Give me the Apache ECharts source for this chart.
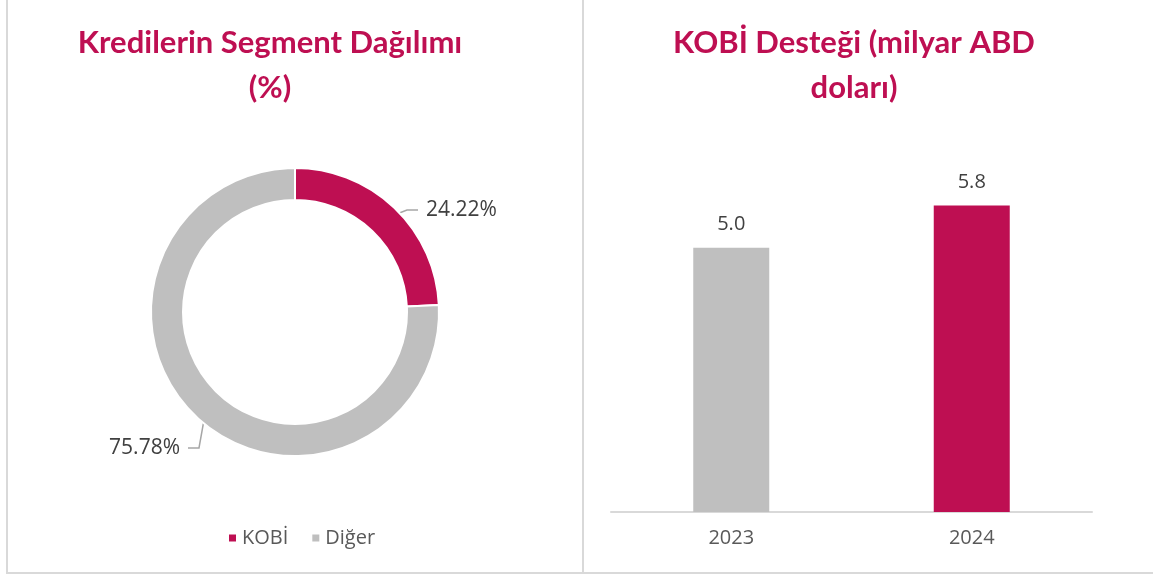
<!DOCTYPE html>
<html>
<head>
<meta charset="utf-8">
<script src="https://cdn.jsdelivr.net/npm/echarts@6/dist/echarts.min.js"></script>
<style>
  html, body { margin: 0; padding: 0; background: #fff; }
  #chart { width: 1153px; height: 575px; }
</style>
</head>
<body>
<div id="chart"></div>
<script>
// pie: loan segment split (%)
const segmentNames = ['KOBİ', 'Diğer'];
const segmentShares = [24.22, 75.78];

// bars: SME support (billion USD)
const years = ['2023', '2024'];
const smeSupport = [5.0, 5.8];

const crimson = '#BE0F52';
const grey = '#BFBFBF';
const segmentColors = [crimson, grey];
const barColors = [grey, crimson];

const titleStyle = {
    fontFamily: 'Lato',
    fontWeight: 'bold',
    fontSize: 31,
    lineHeight: 45,
    color: crimson
};

// where the pie labels sit (Excel style callouts)
const pieLabelPos = [
    { x: 426, y: 210, align: 'left' },
    { x: 180, y: 448, align: 'right' }
];

const chart = echarts.init(document.getElementById('chart'));

function pieLabelLayout(p) {
    const pos = pieLabelPos[p.dataIndex];
    const pts = p.labelLinePoints;
    // start the leader half way into the ring, along the radial direction
    const vx = pts[1][0] - pts[0][0];
    const vy = pts[1][1] - pts[0][1];
    const len = Math.sqrt(vx * vx + vy * vy) || 1;
    const start = [pts[0][0] - 16 * vx / len, pts[0][1] - 16 * vy / len];
    const side = pos.align === 'left' ? -1 : 1;
    const end = [pos.x + side * 8, pos.y];
    const elbow = [end[0] + side * 11, pos.y];
    return {
        x: pos.x,
        y: pos.y,
        align: pos.align,
        verticalAlign: 'middle',
        labelLinePoints: [start, elbow, end]
    };
}

const option = {
    animation: false,
    textStyle: { fontFamily: 'Open Sans' },
    title: [
        {
            text: 'Kredilerin Segment Dağılımı\n(%)',
            left: 265,
            top: 15,
            textAlign: 'center',
            textStyle: titleStyle
        },
        {
            text: 'KOBİ Desteği (milyar ABD\ndoları)',
            left: 849,
            top: 15,
            textAlign: 'center',
            textStyle: titleStyle
        }
    ],
    legend: {
        data: segmentNames,
        left: 222,
        top: 523,
        icon: 'rect',
        itemWidth: 9,
        itemHeight: 9,
        itemGap: 22,
        textStyle: { fontSize: 20, color: '#595959', fontFamily: 'Open Sans' }
    },
    grid: {
        left: 611,
        width: 481,
        top: 142,
        bottom: 63
    },
    xAxis: {
        type: 'category',
        data: years,
        axisLine: { lineStyle: { color: '#D9D9D9', width: 2 } },
        axisTick: { show: false },
        axisLabel: { fontSize: 20, color: '#595959', margin: 16 }
    },
    yAxis: {
        type: 'value',
        min: 0,
        max: 7,
        show: false
    },
    graphic: [
        { type: 'line', shape: { x1: 7, y1: 0, x2: 7, y2: 573 }, style: { stroke: '#D9D9D9', lineWidth: 2 } },
        { type: 'line', shape: { x1: 583, y1: 0, x2: 583, y2: 573 }, style: { stroke: '#D9D9D9', lineWidth: 2 } },
        { type: 'line', shape: { x1: 6, y1: 573, x2: 1153, y2: 573 }, style: { stroke: '#D9D9D9', lineWidth: 2 } }
    ],
    series: [
        {
            type: 'pie',
            center: [295, 312],
            radius: [112, 144],
            startAngle: 90,
            clockwise: true,
            itemStyle: {
                borderColor: '#fff',
                borderWidth: 2,
                color: (p) => segmentColors[p.dataIndex]
            },
            label: {
                show: true,
                formatter: (p) => p.value.toFixed(2) + '%',
                fontSize: 21,
                color: '#404040',
                fontFamily: 'Open Sans'
            },
            labelLine: {
                length: 10,
                length2: 10,
                lineStyle: { color: '#A6A6A6', width: 1.5 }
            },
            labelLayout: pieLabelLayout,
            emphasis: { disabled: true },
            data: segmentNames.map((n, i) => ({ name: n, value: segmentShares[i] }))
        },
        {
            type: 'bar',
            data: smeSupport,
            barWidth: 76,
            itemStyle: {
                color: (p) => barColors[p.dataIndex]
            },
            label: {
                show: true,
                position: 'top',
                distance: 13,
                formatter: (p) => p.value.toFixed(1),
                fontSize: 20,
                color: '#404040',
                fontFamily: 'Open Sans'
            }
        }
    ]
};

chart.setOption(option);
</script>
</body>
</html>
